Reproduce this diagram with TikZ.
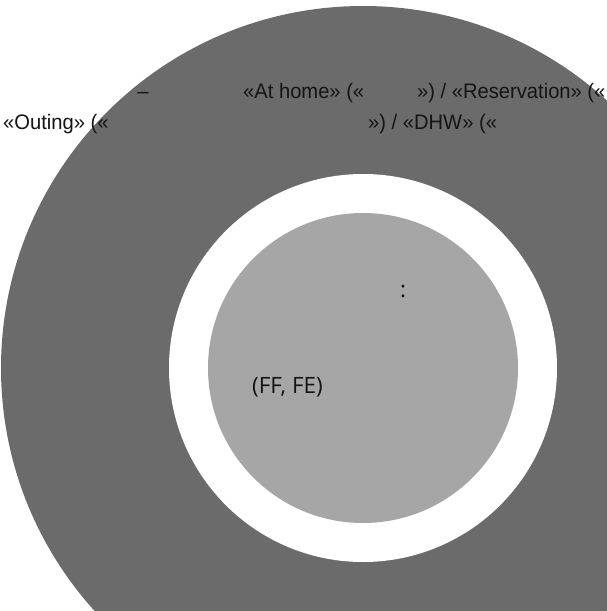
\documentclass[tikz,border=0pt]{standalone}
\usepackage{fontspec}
\setmainfont{Liberation Sans}
\newfontfamily\topfont[FakeStretch=0.96]{Liberation Sans}
\newfontfamily\innerfont{Open Sans}
\definecolor{ringdark}{HTML}{6B6B6B}
\definecolor{corelight}{HTML}{A6A6A6}
\definecolor{inktext}{HTML}{151515}
\tikzset{
  toplabel/.style={anchor=base west, inner sep=0pt, text=inktext, font=\topfont\fontsize{21}{25}\selectfont},
  innerlabel/.style={anchor=base west, inner sep=0pt, text=inktext, font=\innerfont\fontsize{22.5}{26}\selectfont}
}
\begin{document}
\begin{tikzpicture}[x=1pt,y=-1pt]
  \fill[white] (0,0) rectangle (607,611);
  \useasboundingbox (0,0) rectangle (607,611);
  \begin{scope}
    \clip (0,0) rectangle (607,611);
    \fill[ringdark] (363,368) circle [radius=362pt];
    \fill[white] (363,368) circle [radius=194pt];
    \fill[corelight] (363,368) circle [radius=155pt];
  \end{scope}
  % top lines
  \node[toplabel, anchor=base] (dash) at (143,98) {–};
  \node[toplabel] (athome) at (243,98) {«At home» («};
  \node[toplabel] (reserv) at (417,98) {») / «Reservation» («};
  \node[toplabel] (outing) at (3,129) {«Outing» («};
  \node[toplabel] (dhw) at (368,129) {») / «DHW» («};
  % inner texts
  \node[innerlabel, anchor=base] (colon) at (403,297) {:};
  \node[innerlabel] (fffe) at (252,393) {(FF, FE)};
\end{tikzpicture}
\end{document}
